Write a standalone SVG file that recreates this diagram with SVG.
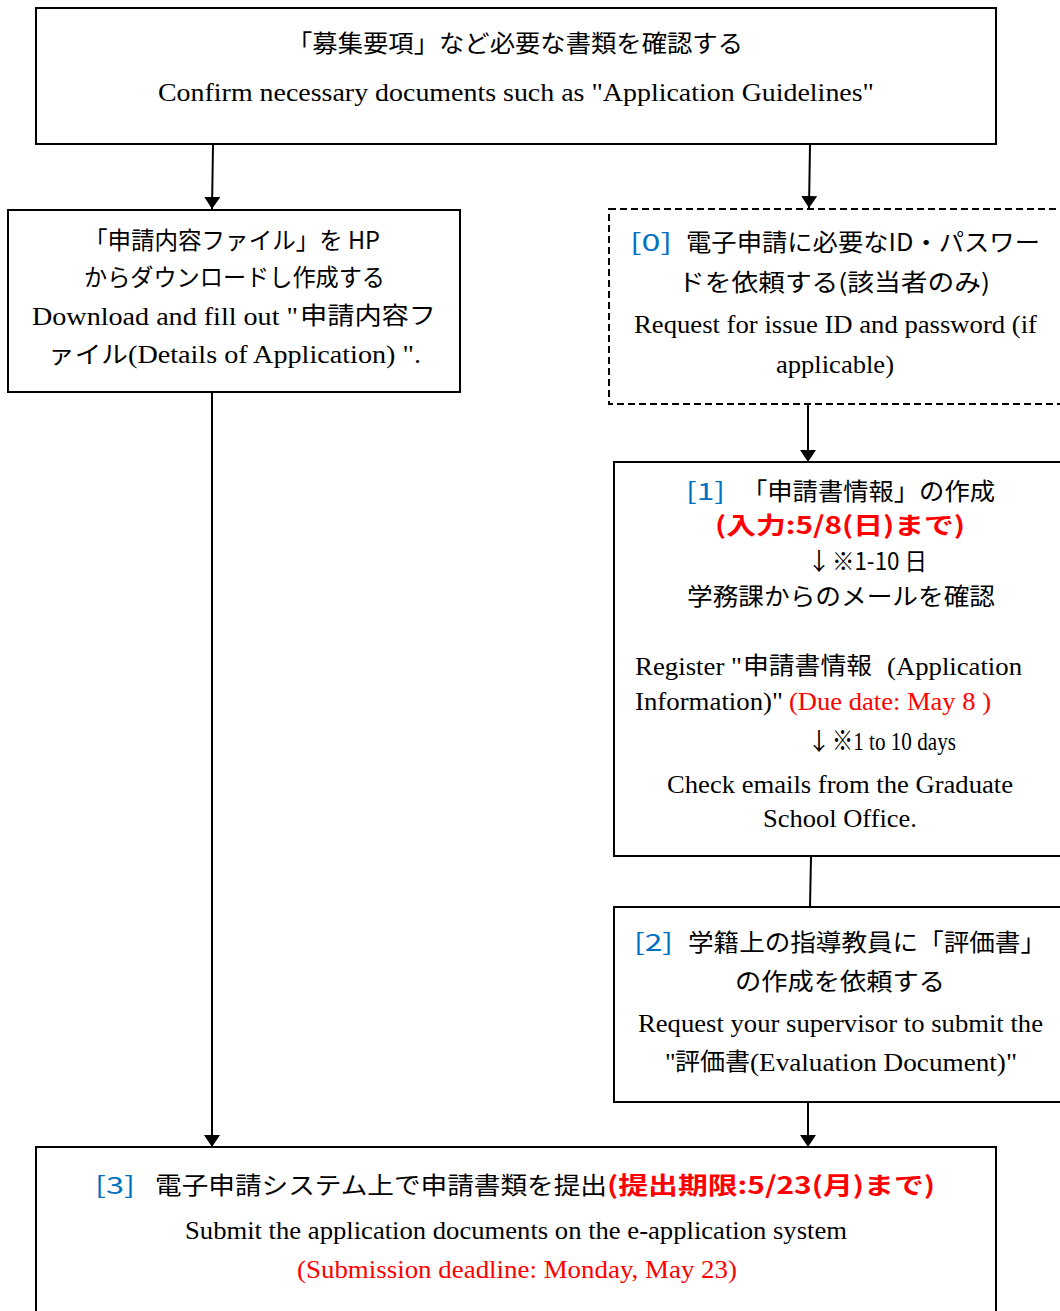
<svg xmlns="http://www.w3.org/2000/svg" width="1060" height="1311" viewBox="0 0 1060 1311">
<style>
.box{fill:#fff;stroke:#000;stroke-width:2}
.dash{fill:#fff;stroke:#000;stroke-width:2;stroke-dasharray:7 4}
.jp{font-family:"Noto Sans CJK JP","Noto Sans",sans-serif;font-size:24px;fill:#000}
.en{font-family:"Liberation Serif","Noto Sans CJK JP",serif;font-size:26px;fill:#000}
.blue{fill:#0070C0}
.red{fill:#FF0000}
.b{font-weight:bold}
.c{stroke:#000;stroke-width:2;fill:none}
</style>
<defs>
<marker id="arr" viewBox="0 0 12 16" refX="12" refY="8" markerWidth="12" markerHeight="16" markerUnits="userSpaceOnUse" orient="auto">
<path d="M0,0 L12,8 L0,16 Z" fill="#000"/>
</marker>
</defs>

<g id="connectors">
<line class="c" x1="213" y1="145" x2="212" y2="209" marker-end="url(#arr)"/>
<line class="c" x1="810" y1="145" x2="809" y2="208" marker-end="url(#arr)"/>
<line class="c" x1="212" y1="392" x2="212" y2="1147" marker-end="url(#arr)"/>
<line class="c" x1="808" y1="405" x2="808" y2="462" marker-end="url(#arr)"/>
<line class="c" x1="811" y1="857" x2="810" y2="907"/>
<line class="c" x1="808" y1="1103" x2="808" y2="1147" marker-end="url(#arr)"/>
</g>

<g id="node-top">
<rect class="box" x="36" y="8" width="960" height="136"/>
<text class="jp" x="287" y="52" font-size="27" textLength="456" lengthAdjust="spacingAndGlyphs">「募集要項」など必要な書類を確認する</text>
<text class="en" x="158" y="101" font-size="28" textLength="716" lengthAdjust="spacingAndGlyphs">Confirm necessary documents such as "Application Guidelines"</text>
</g>

<g id="node-left">
<rect class="box" x="8" y="210" width="452" height="182"/>
<text class="jp" x="84" y="249" textLength="296" lengthAdjust="spacingAndGlyphs">「申請内容ファイル」を HP</text>
<text class="jp" x="84" y="286" textLength="301" lengthAdjust="spacingAndGlyphs">からダウンロードし作成する</text>
<text class="en" x="32" y="325" textLength="266" lengthAdjust="spacingAndGlyphs">Download and fill out "</text>
<text class="jp" x="300" y="324" textLength="136" lengthAdjust="spacingAndGlyphs">申請内容フ</text>
<text class="jp" x="48" y="363" textLength="80" lengthAdjust="spacingAndGlyphs">ァイル</text>
<text class="en" x="128" y="363" textLength="293" lengthAdjust="spacingAndGlyphs">(Details of Application) ".</text>
</g>

<g id="node-0">
<rect class="dash" x="609" y="209" width="460" height="195"/>
<text class="jp blue" x="630" y="251" font-size="26" textLength="42" lengthAdjust="spacingAndGlyphs">[0]</text>
<text class="jp" x="686" y="251" font-size="25" textLength="354" lengthAdjust="spacingAndGlyphs">電子申請に必要なID・パスワー</text>
<text class="jp" x="678" y="291" font-size="25" textLength="312" lengthAdjust="spacingAndGlyphs">ドを依頼する(該当者のみ)</text>
<text class="en" x="634" y="333" textLength="403" lengthAdjust="spacingAndGlyphs">Request for issue ID and password (if</text>
<text class="en" x="835" y="373" text-anchor="middle" textLength="118" lengthAdjust="spacingAndGlyphs">applicable)</text>
</g>

<g id="node-1">
<rect class="box" x="614" y="462" width="460" height="394"/>
<text class="jp blue" x="686" y="500" font-size="26" textLength="39" lengthAdjust="spacingAndGlyphs">[1]</text>
<text class="jp" x="742" y="500" font-size="25" textLength="253" lengthAdjust="spacingAndGlyphs">「申請書情報」の作成</text>
<text class="jp red b" x="715" y="534" font-size="25" textLength="250" lengthAdjust="spacingAndGlyphs">(入力:5/8(日)まで)</text>
<text class="jp" x="807" y="570" font-size="22">↓</text>
<text class="jp" x="832" y="570" font-size="20" textLength="95" lengthAdjust="spacingAndGlyphs">※1-10 日</text>
<text class="jp" x="687" y="605" font-size="25" textLength="308" lengthAdjust="spacingAndGlyphs">学務課からのメールを確認</text>
<text class="en" x="635" y="675" textLength="107" lengthAdjust="spacingAndGlyphs">Register "</text>
<text class="jp" x="743" y="674" textLength="129" lengthAdjust="spacingAndGlyphs">申請書情報</text>
<text class="en" x="887" y="675" textLength="135" lengthAdjust="spacingAndGlyphs">(Application</text>
<text class="en" x="635" y="710" textLength="148" lengthAdjust="spacingAndGlyphs">Information)"</text>
<text class="en red" x="789" y="710" textLength="202" lengthAdjust="spacingAndGlyphs">(Due date: May 8 )</text>
<text class="jp" x="807" y="750" font-size="22">↓</text>
<text class="en" x="832" y="750" font-size="21" textLength="124" lengthAdjust="spacingAndGlyphs">※1 to 10 days</text>
<text class="en" x="840" y="793" text-anchor="middle" font-size="27" textLength="346" lengthAdjust="spacingAndGlyphs">Check emails from the Graduate</text>
<text class="en" x="840" y="827" text-anchor="middle" font-size="27" textLength="154" lengthAdjust="spacingAndGlyphs">School Office.</text>
</g>

<g id="node-2">
<rect class="box" x="614" y="907" width="460" height="195"/>
<text class="jp blue" x="634" y="951" font-size="26" textLength="39" lengthAdjust="spacingAndGlyphs">[2]</text>
<text class="jp" x="688" y="951" font-size="25" textLength="358" lengthAdjust="spacingAndGlyphs">学籍上の指導教員に「評価書」</text>
<text class="jp" x="735" y="990" font-size="25" textLength="210" lengthAdjust="spacingAndGlyphs">の作成を依頼する</text>
<text class="en" x="638" y="1032" textLength="405" lengthAdjust="spacingAndGlyphs">Request your supervisor to submit the</text>
<text class="en" x="665" y="1071">"</text>
<text class="jp" x="675" y="1070" textLength="75" lengthAdjust="spacingAndGlyphs">評価書</text>
<text class="en" x="750" y="1071" textLength="267" lengthAdjust="spacingAndGlyphs">(Evaluation Document)"</text>
</g>

<g id="node-3">
<rect class="box" x="36" y="1147" width="960" height="180"/>
<text class="jp blue" x="95" y="1194" font-size="28" textLength="40" lengthAdjust="spacingAndGlyphs">[3]</text>
<text class="jp" x="155" y="1194" font-size="28" textLength="452" lengthAdjust="spacingAndGlyphs">電子申請システム上で申請書類を提出</text>
<text class="jp red b" x="607" y="1194" font-size="28" textLength="328" lengthAdjust="spacingAndGlyphs">(提出期限:5/23(月)まで)</text>
<text class="en" x="185" y="1239" font-size="28" textLength="662" lengthAdjust="spacingAndGlyphs">Submit the application documents on the e-application system</text>
<text class="en red" x="297" y="1278" font-size="28" textLength="440" lengthAdjust="spacingAndGlyphs">(Submission deadline: Monday, May 23)</text>
</g>
</svg>
